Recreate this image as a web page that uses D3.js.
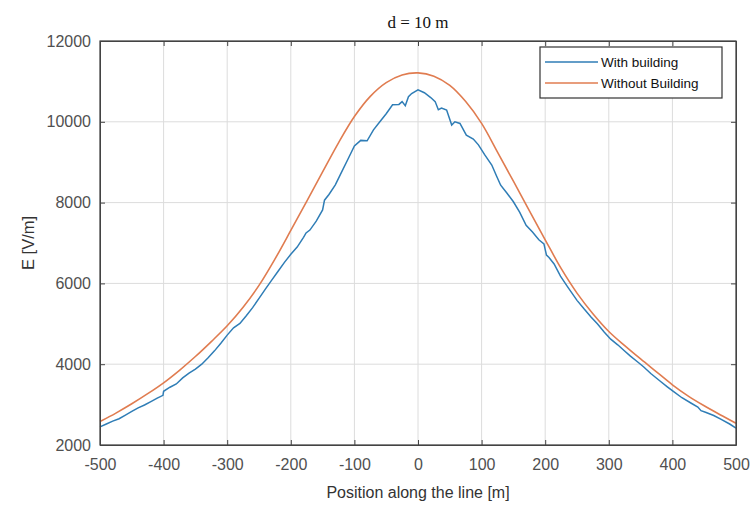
<!DOCTYPE html>
<html>
<head>
<meta charset="utf-8">
<script src="https://cdn.jsdelivr.net/npm/d3@7"></script>
<style>
  body { margin: 0; background: #fff; }
  svg { display: block; }
  .grid line { stroke: #dcdcdc; stroke-width: 1; }
  .axis text { font-family: Arial, "Liberation Sans", sans-serif; font-size: 16px; fill: #505050; }
  .axis path, .axis line { stroke: #444; }
</style>
</head>
<body>
<div id="chart"></div>
<script>
// ticks
var xTicks = [-500, -400, -300, -200, -100, 0, 100, 200, 300, 400, 500];
var yTicks = [2000, 4000, 6000, 8000, 10000, 12000];

// without building (smooth curve), read every 25 m
var redX = [-500, -475, -450, -425, -400, -375, -350, -325, -300, -275, -250, -225, -200, -175, -150, -125, -100, -75, -50, -25,
            0, 25, 50, 75, 100, 125, 150, 175, 200, 225, 250, 275, 300, 325, 350, 375, 400, 425, 450, 475, 500];
var redE = [2580, 2790, 3020, 3270, 3540, 3850, 4190, 4560, 4950, 5410, 5950, 6600, 7310, 8030, 8760, 9480, 10130, 10630, 10970, 11160,
            11210, 11130, 10900, 10500, 9960, 9250, 8530, 7800, 7080, 6370, 5760, 5250, 4810, 4460, 4130, 3810, 3490, 3210, 2970, 2750, 2540];

// with building (noisy)
var blueX = [-500, -490, -480, -470, -460, -450, -440, -430, -420, -410, -401, -400, -390, -380, -370, -360, -350, -340, -330, -320,
             -310, -300, -290, -280, -270, -260, -250, -240, -230, -220, -210, -200, -190, -180, -176, -170, -160, -150, -147, -140,
             -130, -120, -110, -100, -90, -80, -70, -60, -50, -40, -30, -25, -20, -15, -10, 0,
             10, 20, 27, 32, 37, 45, 53, 58, 66, 76, 87, 95, 105, 116, 124, 130, 140, 150, 160, 170, 180, 190, 198, 202,
             206, 214, 224, 235, 250, 261, 272, 282, 293, 303, 314, 324, 334, 345, 355, 366, 380, 392, 402, 415, 429, 440, 445,
             452, 465, 476, 490, 500];
var blueE = [2450, 2520, 2590, 2650, 2740, 2830, 2920, 2990, 3075, 3160, 3230, 3330, 3430, 3510, 3660, 3780, 3880, 4000, 4160, 4330,
             4520, 4720, 4900, 5010, 5200, 5400, 5630, 5860, 6080, 6300, 6520, 6720, 6900, 7140, 7250, 7320, 7540, 7820, 8060, 8200,
             8440, 8760, 9080, 9400, 9540, 9530, 9800, 10000, 10200, 10420, 10430, 10500, 10400, 10620, 10700, 10790,
             10720, 10600, 10500, 10300, 10340, 10290, 9920, 10000, 9960, 9670, 9575, 9430, 9180, 8930, 8640, 8430, 8230, 8020, 7760, 7440, 7270, 7080, 6980, 6700,
             6640, 6480, 6180, 5920, 5580, 5370, 5170, 5000, 4790, 4620, 4480, 4340, 4200, 4060, 3930, 3770, 3590, 3440, 3320, 3170, 3040, 2940, 2850,
             2810, 2730, 2640, 2520, 2420];

var seriesNames = ["With building", "Without Building"];
var seriesColors = ["#2f7db6", "#e07c50"];

var W = 752, H = 506;
var margin = {top: 41, right: 16, bottom: 61, left: 100};
var width = W - margin.left - margin.right,
    height = H - margin.top - margin.bottom;

var svg = d3.select("#chart").append("svg")
    .attr("width", W)
    .attr("height", H);

var g = svg.append("g")
    .attr("transform", "translate(" + margin.left + "," + margin.top + ")");

var xScale = d3.scaleLinear().domain([-500, 500]).range([0, width]);
var yScale = d3.scaleLinear().domain([2000, 12000]).range([height, 0]);

// grid
g.append("g").attr("class", "grid")
    .selectAll("line").data(xTicks).enter().append("line")
    .attr("x1", function (d) { return xScale(d); })
    .attr("x2", function (d) { return xScale(d); })
    .attr("y1", 0).attr("y2", height);
g.append("g").attr("class", "grid")
    .selectAll("line").data(yTicks).enter().append("line")
    .attr("y1", function (d) { return yScale(d); })
    .attr("y2", function (d) { return yScale(d); })
    .attr("x1", 0).attr("x2", width);

var redData = redX.map(function (d, i) { return [d, redE[i]]; });
var blueData = blueX.map(function (d, i) { return [d, blueE[i]]; });

g.append("path")
    .datum(redData)
    .attr("fill", "none")
    .attr("stroke", seriesColors[1])
    .attr("stroke-width", 1.6)
    .attr("d", d3.line()
        .curve(d3.curveCatmullRom)
        .x(function (d) { return xScale(d[0]); })
        .y(function (d) { return yScale(d[1]); }));

g.append("path")
    .datum(blueData)
    .attr("fill", "none")
    .attr("stroke", seriesColors[0])
    .attr("stroke-width", 1.5)
    .attr("d", d3.line()
        .x(function (d) { return xScale(d[0]); })
        .y(function (d) { return yScale(d[1]); }));

// axes, ticks pointing inward like matlab (plain hyphen for minus)
var fmt = function (d) { return String(d); };
var xAxis = d3.axisBottom(xScale).tickValues(xTicks).tickFormat(fmt).tickSizeInner(-5).tickSizeOuter(0).tickPadding(14);
var yAxis = d3.axisLeft(yScale).tickValues(yTicks).tickFormat(fmt).tickSizeInner(-5).tickSizeOuter(0).tickPadding(9);

g.append("g").attr("class", "x axis")
    .attr("transform", "translate(0," + height + ")")
    .call(xAxis);
g.append("g").attr("class", "y axis")
    .call(yAxis);
g.append("g").attr("class", "axis")
    .call(d3.axisTop(xScale).tickValues(xTicks).tickSizeInner(-5).tickSizeOuter(0).tickFormat(""));
g.append("g").attr("class", "axis")
    .attr("transform", "translate(" + width + ",0)")
    .call(d3.axisRight(yScale).tickValues(yTicks).tickSizeInner(-5).tickSizeOuter(0).tickFormat(""));

g.append("rect")
    .attr("width", width).attr("height", height)
    .attr("fill", "none").attr("stroke", "#444").attr("stroke-width", 1.2);

// title
svg.append("text")
    .attr("x", margin.left + xScale(0))
    .attr("y", 28)
    .attr("text-anchor", "middle")
    .style("font-family", "'Liberation Serif', 'Times New Roman', serif")
    .style("font-size", "17px")
    .attr("fill", "#111")
    .text("d = 10 m");

svg.append("text")
    .attr("x", margin.left + width / 2)
    .attr("y", 498)
    .attr("text-anchor", "middle")
    .style("font-family", "Arial, 'Liberation Sans', sans-serif")
    .style("font-size", "16px")
    .attr("fill", "#333")
    .text("Position along the line [m]");

svg.append("text")
    .attr("transform", "translate(34," + (margin.top + height / 2) + ") rotate(-90)")
    .attr("text-anchor", "middle")
    .style("font-family", "Arial, 'Liberation Sans', sans-serif")
    .style("font-size", "16.5px")
    .attr("fill", "#333")
    .text("E [V/m]");

// legend
var legend = svg.append("g").attr("transform", "translate(540,47)");
legend.append("rect")
    .attr("width", 182).attr("height", 51)
    .attr("fill", "#fff").attr("stroke", "#333").attr("stroke-width", 1.2);
seriesNames.forEach(function (name, i) {
    var yy = 15 + i * 21;
    legend.append("line")
        .attr("x1", 5).attr("x2", 58)
        .attr("y1", yy).attr("y2", yy)
        .attr("stroke", seriesColors[i]).attr("stroke-width", 1.6);
    legend.append("text")
        .attr("x", 61).attr("y", yy + 5)
        .style("font-family", "Arial, 'Liberation Sans', sans-serif")
        .style("font-size", "13.5px")
        .attr("fill", "#111")
        .text(name);
});
</script>
</body>
</html>
